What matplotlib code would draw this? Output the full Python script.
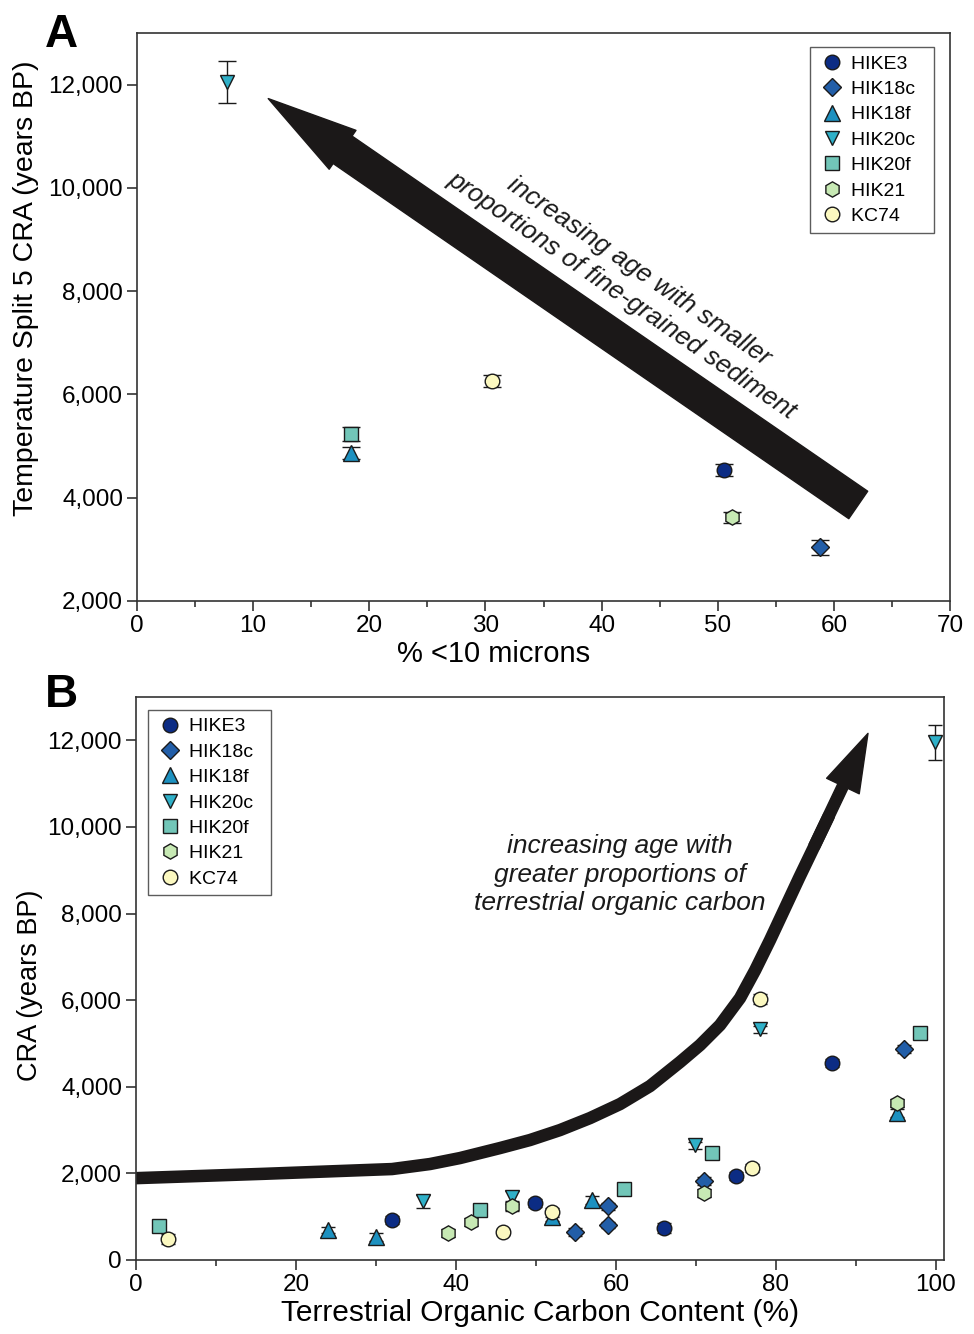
import matplotlib
matplotlib.use('Agg')
import matplotlib.pyplot as plt
from matplotlib.ticker import FuncFormatter, MultipleLocator

plt.rcParams['font.family'] = ['Liberation Sans', 'DejaVu Sans']

# series styling (YlGnBu-like ramp)
SERIES = ['HIKE3', 'HIK18c', 'HIK18f', 'HIK20c', 'HIK20f', 'HIK21', 'KC74']
MARKERS = ['o', 'D', '^', 'v', 's', 'h', 'o']
COLORS = ['#0c2c84', '#225ea8', '#1d91c0', '#2fb0c8', '#72c6b8', '#c7e9b4', '#fbf8c0']
SIZES = [10.5, 9, 11, 10.5, 9.5, 11, 10.5]

# panel A: % <10 microns vs CRA of temperature split 5
a_x = [50.5, 58.8, 18.4, 7.75, 18.4, 51.2, 30.6]
a_y = [4540, 3040, 4870, 12050, 5230, 3620, 6260]
a_err = [120, 140, 120, 410, 140, 110, 120]

# panel B: terrestrial organic carbon vs CRA
b_x = [[32.0, 49.9, 66.0, 75.0, 87.0],
       [54.9, 59.0, 59.0, 71.0, 96.0],
       [24.0, 30.0, 52.0, 57.0, 95.1],
       [35.9, 47.0, 69.9, 78.0, 99.9],
       [2.9, 43.0, 61.0, 72.0, 98.0],
       [39.0, 41.9, 47.0, 71.0, 95.1],
       [4.0, 45.9, 52.0, 77.0, 78.0]]
b_y = [[923, 1315, 738, 1938, 4546],
       [646, 1246, 808, 1823, 4869],
       [692, 530, 1000, 1385, 3392],
       [1360, 1454, 2654, 5331, 11954],
       [780, 1154, 1638, 2469, 5238],
       [623, 877, 1246, 1546, 3623],
       [485, 646, 1100, 2123, 6023]]
b_err = [[90, 90, 110, 90, 100],
         [90, 80, 80, 90, 100],
         [80, 90, 90, 90, 100],
         [150, 150, 80, 80, 400],
         [140, 110, 90, 100, 140],
         [90, 100, 110, 100, 100],
         [110, 80, 100, 90, 110]]

# trend arrows (hand drawn in the original)
a_arrow_tail = (62.1, 3860)
a_arrow_tip = (11.3, 11730)
b_curve_x = [0, 16, 32, 36.75, 40.5, 45.5, 49.25, 53, 56.75, 60.5, 64.25, 68, 70.5,
             73, 75.5, 77.4, 79.25, 82.9, 86.6]
b_curve_y = [1890, 1990, 2100, 2216, 2354, 2585, 2770, 3000, 3277, 3600, 4016, 4570, 4962,
             5424, 6047, 6693, 7386, 8828, 10248]
b_head_start = (84.76, 9546)
b_arrow_tip = (91.5, 12160)

EDGE = '#1a1a1a'
SPINE = '#333333'
INK = '#1b1818'


def style_axes(ax):
    for s in ax.spines.values():
        s.set_color(SPINE)
        s.set_linewidth(1.2)
    ax.tick_params(which='major', direction='out', length=7, width=1.2,
                   color=SPINE, labelsize=17.5, pad=3)
    ax.tick_params(which='minor', direction='out', length=4.5, width=1.2, color=SPINE)
    ax.yaxis.set_major_formatter(FuncFormatter(lambda v, p: f'{v:,.0f}'))


def draw_series(ax, xs, ys, errs, capsize):
    for i, name in enumerate(SERIES):
        ax.errorbar(xs[i], ys[i], yerr=errs[i], fmt=MARKERS[i], ms=SIZES[i],
                    mfc=COLORS[i], mec=EDGE, mew=1.0, ecolor=EDGE, elinewidth=1.0,
                    capsize=capsize, capthick=1.0, label=name, zorder=3)


def add_legend(ax, loc, anchor):
    handles = [plt.Line2D([], [], ls='none', marker=MARKERS[i], ms=SIZES[i],
                          mfc=COLORS[i], mec=EDGE, mew=1.0) for i in range(len(SERIES))]
    # trailing spaces widen the frame on the right like the original box
    labels = [s + '  ' for s in SERIES]
    leg = ax.legend(handles, labels, loc=loc, bbox_to_anchor=anchor, borderaxespad=0,
                    fancybox=False, frameon=True, fontsize=14, handlelength=1.4,
                    handletextpad=0.3, labelspacing=0.4, borderpad=0.4)
    leg.get_frame().set_edgecolor(SPINE)
    leg.get_frame().set_linewidth(1.0)


fig = plt.figure(figsize=(9.74, 13.34), dpi=100)

# ---- panel A
ax1 = fig.add_axes([137 / 974, 1 - 601 / 1334, 813 / 974, 568 / 1334])
style_axes(ax1)
ax1.set_xlim(0, 70)
ax1.set_ylim(2000, 13000)
ax1.xaxis.set_major_locator(MultipleLocator(10))
ax1.xaxis.set_minor_locator(MultipleLocator(5))
ax1.yaxis.set_major_locator(MultipleLocator(2000))

ax1.annotate('', xy=a_arrow_tip, xytext=a_arrow_tail,
             arrowprops=dict(arrowstyle='simple,head_length=65,head_width=34,tail_width=24',
                             mutation_scale=1, color=INK, shrinkA=0, shrinkB=0),
             zorder=2)
ax1.text(42.5, 8150, 'increasing age with smaller\nproportions of fine-grained sediment',
         rotation=-34.6, rotation_mode='anchor', ha='center', va='center',
         fontsize=18.7, style='italic', linespacing=1.3, color='#1a1a1a')

draw_series(ax1, [[v] for v in a_x], [[v] for v in a_y], [[v] for v in a_err], 6.5)
add_legend(ax1, 'upper right', (0.980, 0.975))

ax1.set_xlabel('% <10 microns', fontsize=21)
ax1.xaxis.set_label_coords(0.439, -0.068)
ax1.set_ylabel('Temperature Split 5 CRA (years BP)', fontsize=20.5)
ax1.yaxis.set_label_coords(-0.12, 0.551)

# ---- panel B
ax2 = fig.add_axes([136 / 974, 1 - 1260 / 1334, 808 / 974, 563 / 1334])
style_axes(ax2)
ax2.set_xlim(0, 101)
ax2.set_ylim(0, 13000)
ax2.xaxis.set_major_locator(MultipleLocator(20))
ax2.xaxis.set_minor_locator(MultipleLocator(10))
ax2.yaxis.set_major_locator(MultipleLocator(2000))

ax2.plot(b_curve_x, b_curve_y, color=INK, lw=9.0, solid_joinstyle='round',
         solid_capstyle='round', zorder=2)
# head sits on the straight last stretch of the curve; tail + 1pt edge = line width
ax2.annotate('', xy=b_arrow_tip, xytext=b_head_start,
             arrowprops=dict(arrowstyle='simple,head_length=42,head_width=26,tail_width=8.0',
                             mutation_scale=1, color=INK, lw=1.0, shrinkA=0, shrinkB=0),
             zorder=2)
ax2.text(60.5, 8900, 'increasing age with\ngreater proportions of\nterrestrial organic carbon',
         ha='center', va='center', fontsize=19, style='italic', linespacing=1.25,
         color='#1a1a1a')

draw_series(ax2, b_x, b_y, b_err, 5)
add_legend(ax2, 'upper left', (0.015, 0.977))

ax2.set_xlabel('Terrestrial Organic Carbon Content (%)', fontsize=21.5)
ax2.xaxis.set_label_coords(0.5, -0.07)
ax2.set_ylabel('CRA (years BP)', fontsize=19.5)
ax2.yaxis.set_label_coords(-0.115, 0.488)

fig.text(45 / 974, 1 - 47 / 1334, 'A', fontsize=33, fontweight='bold', va='baseline')
fig.text(45 / 974, 1 - 707 / 1334, 'B', fontsize=33, fontweight='bold', va='baseline')

fig.savefig('out.png', dpi=100)
